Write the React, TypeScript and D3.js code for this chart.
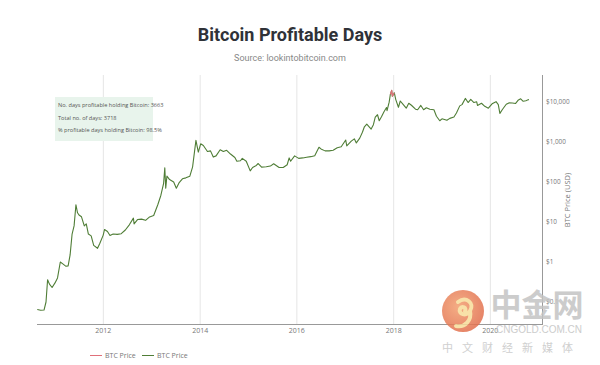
import React from "react";
import * as d3 from "d3";

// BTC price (approx)
const dates = [
  "2010-08-20", "2010-09-15", "2010-10-10", "2010-10-25", "2010-11-06", "2010-11-20", "2010-12-10",
  "2011-01-01", "2011-01-20", "2011-02-10", "2011-03-01", "2011-03-25", "2011-04-10", "2011-04-25",
  "2011-05-10", "2011-05-25", "2011-06-08", "2011-06-20", "2011-07-01", "2011-07-20", "2011-08-10",
  "2011-08-25", "2011-09-10", "2011-10-01", "2011-10-20", "2011-11-18", "2011-12-05", "2011-12-31",
  "2012-01-10", "2012-02-01", "2012-02-20", "2012-03-15", "2012-04-15", "2012-05-15", "2012-06-15",
  "2012-07-15", "2012-08-15", "2012-08-20", "2012-09-15", "2012-10-15", "2012-11-15", "2012-12-15",
  "2013-01-15", "2013-02-15", "2013-03-10", "2013-03-31", "2013-04-09", "2013-04-16", "2013-04-25",
  "2013-05-15", "2013-06-15", "2013-07-05", "2013-07-25", "2013-08-20", "2013-09-15", "2013-10-15",
  "2013-11-05", "2013-11-20", "2013-11-30", "2013-12-18", "2014-01-05", "2014-01-25", "2014-02-25",
  "2014-03-20", "2014-04-10", "2014-05-01", "2014-06-01", "2014-06-25", "2014-07-20", "2014-08-18",
  "2014-09-20", "2014-10-05", "2014-11-01", "2014-11-15", "2014-12-15", "2015-01-14", "2015-02-01",
  "2015-03-01", "2015-03-15", "2015-04-10", "2015-05-15", "2015-06-15", "2015-07-10", "2015-08-20",
  "2015-09-20", "2015-10-20", "2015-11-04", "2015-11-15", "2015-12-15", "2016-01-15", "2016-02-15",
  "2016-03-15", "2016-04-15", "2016-05-15", "2016-06-16", "2016-07-01", "2016-08-01", "2016-09-01",
  "2016-10-01", "2016-11-01", "2016-12-01", "2017-01-04", "2017-01-12", "2017-02-15", "2017-03-10",
  "2017-03-25", "2017-04-20", "2017-05-10", "2017-05-25", "2017-06-12", "2017-06-25", "2017-07-15",
  "2017-08-01", "2017-08-15", "2017-09-01", "2017-09-14", "2017-10-01", "2017-10-20", "2017-11-08",
  "2017-11-12", "2017-11-28", "2017-12-07", "2017-12-17", "2017-12-22", "2018-01-06", "2018-01-17",
  "2018-02-06", "2018-02-20", "2018-03-10", "2018-04-06", "2018-04-25", "2018-05-15", "2018-06-15",
  "2018-07-01", "2018-07-25", "2018-08-15", "2018-09-05", "2018-10-01", "2018-11-01", "2018-11-20",
  "2018-12-15", "2019-01-01", "2019-02-07", "2019-03-01", "2019-04-01", "2019-04-20", "2019-05-15",
  "2019-06-01", "2019-06-26", "2019-07-17", "2019-08-06", "2019-08-30", "2019-09-20", "2019-09-26",
  "2019-10-26", "2019-11-20", "2019-12-17", "2020-01-14", "2020-02-13", "2020-03-01", "2020-03-13",
  "2020-04-01", "2020-04-30", "2020-05-20", "2020-06-15", "2020-07-10", "2020-07-28", "2020-08-17",
  "2020-09-05", "2020-09-25", "2020-10-10", "2020-10-18",
];
const prices = [
  0.065, 0.062, 0.063, 0.1, 0.36, 0.28, 0.23,
  0.3, 0.4, 1.0, 0.9, 0.78, 0.8, 1.5,
  5, 8, 27, 17, 15, 13.5, 8,
  9, 5, 4.5, 2.6, 2.2, 2.9, 4.7,
  6.5, 5.8, 4.6, 5.0, 4.9, 5.1, 6.3,
  8.5, 12.5, 9, 11.5, 11.8, 11.0, 13.4,
  14.5, 27, 46, 93, 225, 70, 140,
  115, 100, 70, 95, 120, 127, 140,
  240, 600, 1100, 560, 900, 820, 580,
  600, 420, 450, 640, 580, 620, 500,
  410, 330, 340, 390, 330, 190, 230,
  260, 290, 235, 240, 250, 285, 230,
  230, 270, 400, 330, 450, 390, 400,
  415, 430, 455, 740, 670, 600, 600,
  620, 720, 760, 1120, 800, 1050, 1200,
  950, 1250, 1750, 2400, 2800, 2500, 2100,
  2700, 4200, 4800, 3400, 4300, 5700, 7300,
  6100, 9900, 15500, 19500, 14000, 17000, 11500,
  7400, 10600, 9000, 7000, 9300, 8300, 6600,
  6400, 8200, 6400, 7200, 6600, 6400, 4400,
  3400, 3800, 3500, 3900, 4200, 5300, 8000,
  8600, 12300, 9700, 11600, 9700, 10100, 8200,
  9300, 7800, 7000, 9000, 10200, 8600, 5200,
  6500, 8800, 9500, 9400, 9200, 11000, 12000,
  10400, 10700, 11300, 11500,
];

// days where price was above today's level are shown red
const unprofitableAbove = 13000;

const yTicks = [0.1, 1, 10, 100, 1000, 10000];
const yTickLabels = ["$0.1", "$1", "$10", "$100", "$1,000", "$10,000"];
const xTickYears = [2012, 2014, 2016, 2018, 2020];

const infoLines = [
  "No. days profitable holding Bitcoin: 3663",
  "Total no. of days: 3718",
  "% profitable days holding Bitcoin: 98.5%",
];

const font = "'Open Sans', 'DejaVu Sans', sans-serif";

export default function App() {
  const width = 600;
  const height = 365;
  const data = dates.map((d, i) => ({ date: new Date(d), price: prices[i] }));

  const x = d3
    .scaleTime()
    .domain([new Date("2010-08-18"), new Date("2021-01-25")])
    .range([37, 542]);
  const y = d3
    .scaleLog()
    .domain([Math.pow(10, -1.55), Math.pow(10, 4.675)])
    .range([324, 75]);

  const line = d3
    .line<{ date: Date; price: number }>()
    .x((d) => x(d.date))
    .y((d) => y(d.price));
  const redLine = d3
    .line<{ date: Date; price: number }>()
    .defined((d) => d.price > unprofitableAbove)
    .x((d) => x(d.date))
    .y((d) => y(d.price));

  const green = "#4f7d36";
  const red = "#e0707a";

  return (
    <svg
      width={width}
      height={height}
      style={{ position: "absolute", left: 0, top: 0, background: "#fff" }}
    >
      <text x={290} y={41} textAnchor="middle" fontFamily="Roboto, sans-serif" fontWeight="bold" fontSize={18} fill="#2f3238">
        Bitcoin Profitable Days
      </text>
      <text x={290} y={61} textAnchor="middle" fontFamily="Roboto, sans-serif" fontSize={9} fill="#888">
        Source: lookintobitcoin.com
      </text>

      {/* vertical gridlines */}
      {xTickYears.map((yr) => {
        const xx = x(new Date(`${yr}-01-01`));
        return (
          <g key={yr}>
            <line x1={xx} x2={xx} y1={75} y2={324} stroke="#e6e6e6" strokeWidth={1} />
            <text x={xx} y={333} textAnchor="middle" fontFamily={font} fontSize={7} fill="#777">
              {yr}
            </text>
          </g>
        );
      })}

      {/* axes */}
      <line x1={37} x2={542} y1={324.5} y2={324.5} stroke="#999" strokeWidth={1} />
      <line x1={542.5} x2={542.5} y1={75} y2={325} stroke="#999" strokeWidth={1} />
      {yTicks.map((t, i) => (
        <text key={t} x={546} y={y(t) + 2.3} fontFamily={font} fontSize={6.4} fill="#777">
          {yTickLabels[i]}
        </text>
      ))}
      <text
        transform={`translate(570,200) rotate(-90)`}
        textAnchor="middle"
        fontFamily={font}
        fontSize={7.5}
        fill="#777"
      >
        BTC Price (USD)
      </text>

      {/* price line */}
      <path d={line(data) ?? ""} fill="none" stroke={green} strokeWidth={1.1} strokeLinejoin="round" />
      <path d={redLine(data) ?? ""} fill="none" stroke={red} strokeWidth={1.2} strokeLinejoin="round" />

      {/* info box */}
      <rect x={55} y={97} width={98} height={44} fill="#e8f4ec" />
      {infoLines.map((t, i) => (
        <text key={t} x={58} y={107 + i * 12.5} fontFamily={font} fontSize={5.6} fill="#555">
          {t}
        </text>
      ))}

      {/* legend */}
      <line x1={90} x2={102} y1={355.5} y2={355.5} stroke={red} strokeWidth={1} />
      <text x={105} y={358} fontFamily={font} fontSize={7} fill="#777">BTC Price</text>
      <line x1={142} x2={154} y1={355.5} y2={355.5} stroke={green} strokeWidth={1} />
      <text x={157} y={358} fontFamily={font} fontSize={7} fill="#777">BTC Price</text>

      {/* watermark */}
      <defs>
        <radialGradient id="wm" cx="40%" cy="40%" r="70%">
          <stop offset="0%" stopColor="#f3a070" />
          <stop offset="100%" stopColor="#e06a4a" />
        </radialGradient>
      </defs>
      <g opacity={0.85}>
        <circle cx={463} cy={311} r={21} fill="url(#wm)" />
        <path
          d="M458,302 C466,296 475,303 470,311 C466,317 458,314 460,309 C462,305 467,308 465,311 M470,311 C472,320 465,328 456,326"
          fill="none"
          stroke="#f7dc9a"
          strokeWidth={4}
          strokeLinecap="round"
        />
        <text x={537} y={316} textAnchor="middle" fontFamily="'Noto Sans CJK SC', sans-serif" fontWeight="bold" fontSize={31} fill="#c4c4c4">
          中金网
        </text>
        <text x={539} y={333} textAnchor="middle" fontFamily="'Liberation Sans', sans-serif" fontSize={10} fill="#c4c4c4">
          CNGOLD.COM.CN
        </text>
        <text x={512} y={352} textAnchor="middle" fontFamily="'Noto Sans CJK SC', sans-serif" fontSize={11} letterSpacing={9} fill="#c8c8c8">
          中文财经新媒体
        </text>
      </g>
    </svg>
  );
}
